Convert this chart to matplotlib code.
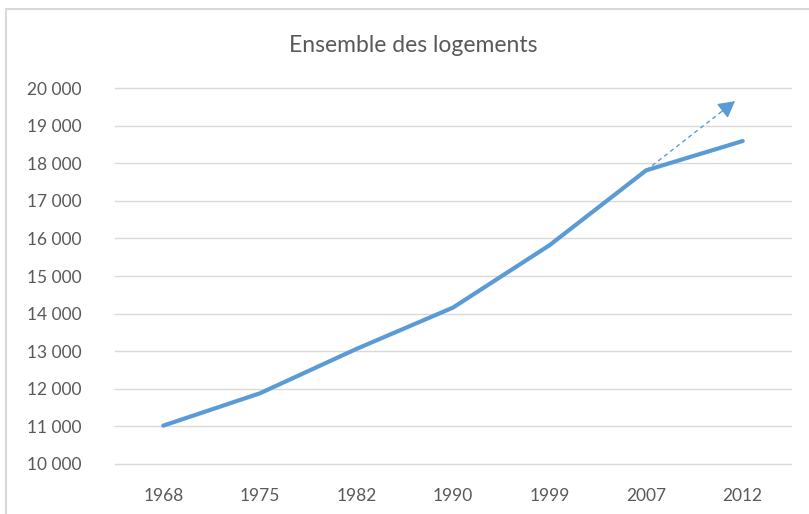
import matplotlib.pyplot as plt
from matplotlib.patches import Rectangle
from matplotlib.ticker import FuncFormatter

plt.rcParams["font.family"] = ["Lato", "DejaVu Sans"]

# Data
years = ["1968", "1975", "1982", "1990", "1999", "2007", "2012"]
logements = [11020, 11880, 13060, 14160, 15820, 17810, 18590]
trend_end = (5.92, 19650)  # tip of the dotted trend arrow

grey = "#595959"
blue = "#5B9BD5"

fig = plt.figure(figsize=(8.09, 5.14), dpi=100)
fig.patches.append(
    Rectangle((6 / 809, -0.1), 1.1, 1 - 9 / 514 + 0.1, transform=fig.transFigure,
              fill=False, edgecolor="#d9d9d9", linewidth=1.5)
)

ax = fig.add_axes([115 / 809, 1 - 464 / 514, (791 - 115) / 809, (464 - 88) / 514])
x = range(len(years))
ax.plot(x, logements, color=blue, linewidth=3, solid_capstyle="round", zorder=3)

# dotted trend line from the 2007 point, with a solid arrow head
start = (5, logements[5])
ax.plot([start[0], trend_end[0]], [start[1], trend_end[1]], color=blue, lw=1,
        linestyle=(0, (3, 2.5)), zorder=2)
head_from = (start[0] + 0.85 * (trend_end[0] - start[0]),
             start[1] + 0.85 * (trend_end[1] - start[1]))
ax.annotate("", xy=trend_end, xytext=head_from,
            arrowprops=dict(arrowstyle="-|>,head_length=1.0,head_width=0.55",
                            color=blue, lw=1, shrinkA=0, shrinkB=0),
            zorder=2)

ax.set_xlim(-0.5, len(years) - 0.5)
ax.set_ylim(10000, 20000)
ax.set_yticks(range(10000, 20001, 1000))
ax.yaxis.set_major_formatter(FuncFormatter(lambda v, p: f"{int(v):,}".replace(",", " ")))
ax.set_xticks(list(x))
ax.set_xticklabels(years)

ax.grid(axis="y", color="#d9d9d9", linewidth=1)
for gl in ax.get_ygridlines():
    gl.set_clip_on(False)
ax.set_axisbelow(True)
for s in ax.spines.values():
    s.set_visible(False)
ax.tick_params(axis="both", length=0, labelsize=12.5, colors=grey)
ax.tick_params(axis="y", pad=24)
ax.tick_params(axis="x", pad=17)
for lbl in ax.get_yticklabels():
    lbl.set_horizontalalignment("right")

fig.text(413 / 809, 1 - 45 / 514, "Ensemble des logements", ha="center", va="center",
         fontsize=16.5, color=grey)

fig.savefig("out.png", dpi=100)
